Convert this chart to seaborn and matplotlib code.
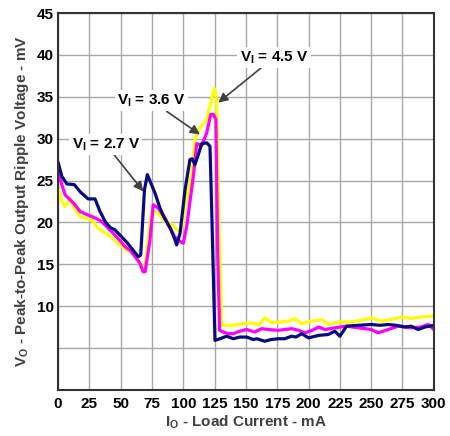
import matplotlib
matplotlib.use("Agg")
import matplotlib.pyplot as plt
import pandas as pd
import seaborn as sns

# load current (mA) / ripple (mV), one pair per input voltage
io_27 = [0, 3, 7, 13, 18, 24, 29.5, 33.5, 38, 41.5, 45.5, 55, 64, 66, 69, 71.3,
         77.4, 81.4, 85, 90, 93.4, 94.7, 97.4, 101.4, 105.3, 107, 109.3, 112,
         114.7, 118.7, 121.3, 122.6, 125.3, 129.3, 134.6, 140, 145, 150.6, 155.9,
         158.6, 165, 170, 175.8, 181, 186.5, 190, 194.5, 200, 208, 215.7, 221,
         225, 230.4, 239.7, 250.3, 257, 263.6, 270, 277, 282, 287.6, 293, 300]
vo_27 = [27.2, 25.5, 24.6, 24.5, 23.6, 22.8, 22.8, 21.3, 20.0, 19.4, 19.1, 17.6,
         15.9, 16.1, 23.9, 25.7, 23.5, 21.7, 20.5, 19.2, 17.9, 17.3, 18.7, 23.9,
         27.5, 27.6, 26.9, 28.1, 29.4, 29.5, 29.1, 21.9, 5.9, 6.1, 6.4, 6.1, 6.3,
         6.3, 6.0, 6.1, 5.8, 6.0, 6.1, 6.1, 6.4, 6.3, 6.7, 6.2, 6.5, 6.6, 7.0,
         6.4, 7.6, 7.7, 7.8, 7.7, 7.8, 7.7, 7.5, 7.6, 7.2, 7.5, 7.7]

io_36 = [0, 5.6, 9.6, 13, 17.6, 22, 26.9, 30, 34.9, 40, 44, 49, 53.5, 58, 61.5,
         65, 68, 69.5, 73.4, 76, 80, 85.4, 89.4, 93, 97.4, 100, 102.7, 108,
         110.7, 114.7, 118.7, 121.9, 124, 126, 127.5, 129, 132, 136, 140, 145,
         150.6, 157, 162.5, 168, 175.8, 181, 186.5, 192, 197, 203, 208, 213,
         221, 230, 240, 250, 255.6, 263.6, 271.6, 282, 290, 295.6, 300]
vo_36 = [25.9, 23.3, 22.7, 22.2, 21.3, 21.0, 20.7, 20.5, 20.1, 19.3, 18.7, 17.9,
         17.1, 16.6, 15.9, 15.2, 14.1, 14.1, 17.9, 22.1, 21.7, 20.5, 19.3, 18.3,
         17.7, 17.5, 19.5, 25.5, 29.4, 29.2, 30.7, 32.9, 32.9, 32.3, 16.0, 7.1,
         6.9, 6.7, 6.7, 7.0, 7.2, 6.9, 7.3, 7.2, 7.1, 7.2, 7.3, 7.1, 6.8, 7.1,
         7.5, 7.2, 7.4, 7.6, 7.4, 7.2, 6.8, 7.2, 7.6, 7.4, 7.5, 7.8, 7.2]

io_45 = [0, 3, 5.6, 9.6, 12.2, 17.6, 22, 27, 32, 36, 40, 45, 50.8, 56, 61.5, 64,
         66.8, 69.2, 72, 74.8, 80, 85.4, 89.4, 93, 97.4, 98.7, 101.4, 106.7,
         109.3, 113.3, 118.7, 121.9, 124.8, 126.6, 128.5, 130.6, 135, 140,
         147.7, 155, 160.2, 165, 170.6, 178.6, 184, 189, 194.5, 202.4, 210.5,
         215.7, 224, 234.6, 245, 250, 258, 266, 274.3, 282, 290, 300]
vo_45 = [24.3, 22.5, 21.9, 22.9, 21.9, 20.7, 20.5, 20.3, 19.3, 18.9, 18.5, 17.9,
         17.1, 16.6, 16.1, 15.5, 14.7, 14.7, 17.9, 21.3, 21.1, 20.1, 19.9, 19.4,
         18.9, 19.1, 21.9, 25.9, 30.0, 31.3, 32.3, 34.3, 36.0, 34.7, 20.0, 7.7,
         7.7, 7.7, 7.9, 8.0, 7.7, 8.6, 8.0, 8.1, 8.2, 8.5, 7.9, 8.2, 8.4, 7.8,
         8.1, 8.1, 8.4, 8.6, 8.2, 8.4, 8.7, 8.5, 8.7, 8.8]

x_ticks = [0, 25, 50, 75, 100, 125, 150, 175, 200, 225, 250, 275, 300]
y_ticks = [0, 5, 10, 15, 20, 25, 30, 35, 40, 45]
y_tick_labels = ["", "", "10", "15", "20", "25", "30", "35", "40", "45"]

sns.set_theme(style="whitegrid")
plt.rcParams["font.family"] = ["Liberation Sans", "DejaVu Sans"]
plt.rcParams["mathtext.default"] = "regular"

fig = plt.figure(figsize=(4.5, 4.36), dpi=100)
ax = fig.add_axes([0.129, 0.106, 0.835, 0.864])

series = [
    (io_45, vo_45, "#ffff00"),
    (io_36, vo_36, "#ff00ff"),
    (io_27, vo_27, "#0a0a80"),
]
for xs, ys, col in series:
    df = pd.DataFrame({"io": xs, "vo": ys})
    sns.lineplot(data=df, x="io", y="vo", color=col, lw=2.3,
                 estimator=None, sort=False, ax=ax)

ax.set_xlim(0, 300)
ax.set_ylim(0, 45)
ax.set_xticks(x_ticks)
ax.set_yticks(y_ticks)
ax.set_yticklabels(y_tick_labels)
ax.tick_params(axis="both", length=0, labelsize=11, colors="black")
ax.tick_params(axis="x", pad=5)
ax.tick_params(axis="y", pad=3)
for lab in ax.get_xticklabels() + ax.get_yticklabels():
    lab.set_fontweight("bold")

ax.grid(True, color="#a8a8a8", lw=1.0)
for sp in ax.spines.values():
    sp.set_color("#333333")
    sp.set_linewidth(1.5)

ax.set_xlabel("I$_O$ - Load Current - mA", fontsize=11, fontweight="bold",
              color="#404040", labelpad=2)
ax.set_ylabel("V$_O$ - Peak-to-Peak Output Ripple Voltage - mV", fontsize=11,
              fontweight="bold", color="#404040", labelpad=4)

arrow = dict(arrowstyle="-|>", color="#404040", lw=1.2, mutation_scale=14,
             shrinkA=0, shrinkB=0)
box = dict(boxstyle="square,pad=0.15", fc="white", ec="none")
notes = [
    ("V$_I$ = 2.7 V", (38.2, 29.3), (68.1, 23.7)),
    ("V$_I$ = 3.6 V", (74.8, 34.5), (113.3, 30.5)),
    ("V$_I$ = 4.5 V", (172.4, 39.7), (127.9, 34.3)),
]
for txt, pos, tip in notes:
    ax.annotate(txt, xy=tip, xytext=pos, ha="center", va="center",
                fontsize=11, fontweight="bold", color="black",
                bbox=box, arrowprops=arrow)

fig.savefig("out.png", dpi=100)
